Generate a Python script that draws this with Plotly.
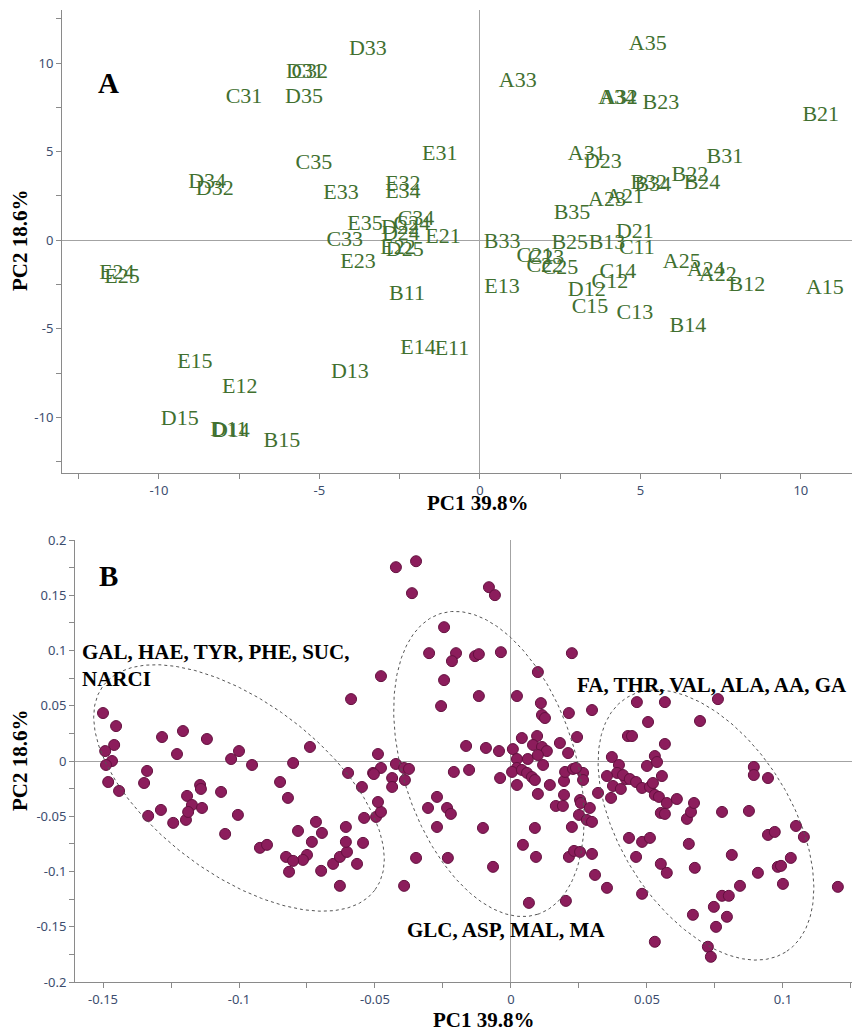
import numpy as np
import plotly.graph_objects as go

# ---------------- Panel A: PCA scores (sample labels) ----------------
sample_labels = [
    "D33", "D31", "C32", "C31", "D35", "C35", "E31", "D34", "D32", "E33",
    "E32", "E34", "E35", "C33", "E23", "D22", "C34", "C24", "D24", "E22",
    "D25", "E21", "E24", "E25", "B11", "E14", "E11", "E15", "D13", "E12",
    "D15", "D14", "D11", "B15",
    "A35", "A33", "A34", "A32", "B23", "B21", "A31", "D23", "B31", "B22",
    "B24", "B32", "B34", "A23", "A21", "B35", "D21", "B33", "B25", "B13",
    "C11", "C21", "C23", "C22", "C25", "E13", "D12", "C12", "C14", "C15",
    "C13", "B14", "A25", "A24", "A22", "B12", "A15",
]
pc1_scores = [
    -3.49, -5.45, -5.30, -7.35, -5.48, -5.17, -1.25, -8.50, -8.26, -4.33,
    -2.40, -2.40, -3.58, -4.21, -3.80, -2.49, -1.99, -2.12, -2.46, -2.55,
    -2.34, -1.15, -11.31, -11.15, -2.27, -1.93, -0.87, -8.88, -4.05, -7.48,
    -9.35, -7.76, -7.82, -6.17,
    5.23, 1.18, 4.27, 4.33, 5.64, 10.62, 3.33, 3.83, 7.63, 6.54,
    6.92, 5.26, 5.39, 3.96, 4.52, 2.87, 4.83, 0.69, 2.80, 3.96,
    4.89, 1.71, 2.06, 2.02, 2.49, 0.69, 3.33, 4.05, 4.30, 3.43,
    4.83, 6.48, 6.29, 7.04, 7.41, 8.32, 10.75,
]
pc2_scores = [
    10.79, 9.49, 9.49, 8.08, 8.08, 4.35, 4.86, 3.28, 2.88, 2.66,
    3.16, 2.71, 0.90, 0.00, -1.24, 0.68, 1.19, 0.90, 0.34, -0.45,
    -0.56, 0.17, -1.86, -2.09, -3.05, -6.10, -6.16, -6.89, -7.46, -8.31,
    -10.11, -10.79, -10.73, -11.36,
    11.07, 8.98, 8.02, 7.97, 7.74, 7.06, 4.86, 4.41, 4.69, 3.67,
    3.22, 3.22, 3.11, 2.26, 2.43, 1.53, 0.45, -0.11, -0.17, -0.17,
    -0.45, -0.90, -1.02, -1.47, -1.58, -2.66, -2.82, -2.37, -1.81, -3.79,
    -4.12, -4.86, -1.24, -1.69, -1.98, -2.54, -2.71,
]

# ---------------- Panel B: PCA loadings ----------------
loading_pc1 = [
    -0.1500, -0.1452, -0.1283, -0.1206, -0.1118, -0.1459, -0.1492, -0.1228, -0.1467, -0.1489,
    -0.1029, -0.1000, -0.0952, -0.0801, -0.0739, -0.0489, -0.0599, -0.0507, -0.0478, -0.1338,
    -0.1481, -0.1441, -0.1349, -0.1334, -0.1287, -0.1242, -0.1195, -0.1191, -0.1173, -0.1187,
    -0.1143, -0.1140, -0.1136, -0.1066, -0.1051, -0.1004, -0.0849, -0.0820, -0.0923, -0.0897,
    -0.0783, -0.0717, -0.0695, -0.0732, -0.0750, -0.0765, -0.0827, -0.0801, -0.0816, -0.0698,
    -0.0654, -0.0629, -0.0603, -0.0607, -0.0607, -0.0566, -0.0629, -0.0544, -0.0540, -0.0496,
    -0.0478, -0.0489, -0.0548, -0.0504, -0.0437, -0.0437, -0.0588, -0.0478,
    -0.0423, -0.0349, -0.0364, -0.0301, -0.0246, -0.0202, -0.0217, -0.0132, -0.0118, -0.0037,
    -0.0081, -0.0059, -0.0246, -0.0118, -0.0257, -0.0423, -0.0393, -0.0375, -0.0390, -0.0272,
    -0.0305, -0.0235, -0.0221, -0.0272, -0.0393, -0.0349, -0.0232, -0.0103, -0.0066, -0.0210,
    -0.0154, -0.0165, -0.0092, -0.0044, 0.0007, -0.0040, 0.0022, 0.0062, 0.0022, 0.0004,
    0.0040, 0.0059, 0.0077, 0.0088, 0.0022, 0.0040, 0.0096, 0.0081, 0.0114, 0.0132,
    0.0099, 0.0118, 0.0180, 0.0210, 0.0243, 0.0110, 0.0114, 0.0125, 0.0213, 0.0298,
    0.0099, 0.0022, 0.0224, 0.0099, 0.0143, 0.0195, 0.0165, 0.0191, 0.0195, 0.0199,
    0.0228, 0.0265, 0.0265, 0.0254, 0.0257, 0.0290, 0.0250, 0.0279, 0.0298, 0.0088,
    0.0224, 0.0044, 0.0092, 0.0213, 0.0232, 0.0254, 0.0298, 0.0309, 0.0353, 0.0202,
    0.0066, 0.0371, 0.0397, 0.0390, 0.0353, 0.0375, 0.0404, 0.0423, 0.0320, 0.0368,
    0.0430, 0.0239,
    0.0463, 0.0566, 0.0761, 0.0504, 0.0695, 0.0445, 0.0566, 0.0529, 0.0500, 0.0893,
    0.0893, 0.0945, 0.0412, 0.0437, 0.0460, 0.0482, 0.0511, 0.0522, 0.0555, 0.0537,
    0.0529, 0.0544, 0.0573, 0.0610, 0.0551, 0.0566, 0.0647, 0.0662, 0.0673, 0.0434,
    0.0482, 0.0511, 0.0460, 0.0551, 0.0573, 0.0654, 0.0676, 0.0482, 0.0529, 0.0669,
    0.0724, 0.0735, 0.0754, 0.0746, 0.0776, 0.0801, 0.0794, 0.0842, 0.0812, 0.0776,
    0.0875, 0.0908, 0.0945, 0.0970, 0.0981, 0.0993, 0.1000, 0.1029, 0.1048, 0.1077,
    0.1202,
]
loading_pc2 = [
    0.0434, 0.0316, 0.0217, 0.0271, 0.0199, 0.0145, 0.0090, 0.0063, 0.0000, -0.0036,
    0.0018, 0.0090, -0.0036, -0.0018, 0.0127, 0.0063, -0.0108, -0.0108, -0.0063, -0.0090,
    -0.0190, -0.0271, -0.0199, -0.0497, -0.0443, -0.0560, -0.0533, -0.0316, -0.0398, -0.0461,
    -0.0217, -0.0253, -0.0425, -0.0280, -0.0660, -0.0488, -0.0190, -0.0334, -0.0786, -0.0759,
    -0.0633, -0.0551, -0.0651, -0.0732, -0.0850, -0.0895, -0.0868, -0.0904, -0.1003, -0.0994,
    -0.0931, -0.0868, -0.0823, -0.0732, -0.0597, -0.0931, -0.1130, -0.0741, -0.0515, -0.0506,
    -0.0461, -0.0371, -0.0235, -0.0118, -0.0154, -0.0235, 0.0560, 0.0768,
    0.1754, 0.1808, 0.1519, 0.0976, 0.1211, 0.0976, 0.0904, 0.0949, 0.0967, 0.0985,
    0.1573, 0.1501, 0.0732, 0.0588, 0.0497, -0.0027, -0.0063, -0.0072, -0.0172, -0.0325,
    -0.0425, -0.0425, -0.0479, -0.0597, -0.1130, -0.0877, -0.0877, -0.0606, -0.0958, -0.0099,
    -0.0081, 0.0136, 0.0118, 0.0090, 0.0108, -0.0154, 0.0018, 0.0018, -0.0063, -0.0099,
    -0.0081, -0.0108, -0.0145, -0.0172, -0.0217, 0.0208, 0.0226, 0.0145, 0.0127, 0.0090,
    0.0054, -0.0036, 0.0163, 0.0072, 0.0217, 0.0524, 0.0416, 0.0389, 0.0434, 0.0461,
    0.0805, 0.0588, 0.0976, -0.0298, -0.0217, -0.0307, -0.0407, -0.0407, -0.0181, -0.0099,
    -0.0072, -0.0108, -0.0172, -0.0353, -0.0380, -0.0425, -0.0488, -0.0533, -0.0551, -0.0606,
    -0.0597, -0.0759, -0.0868, -0.0868, -0.0814, -0.0823, -0.0841, -0.1031, -0.1148, -0.1266,
    -0.1284, 0.0036, -0.0036, -0.0108, -0.0136, -0.0226, -0.0253, -0.0163, -0.0289, -0.0334,
    0.0226, -0.0063,
    0.0533, 0.0533, 0.0560, 0.0353, 0.0362, 0.0226, 0.0154, 0.0045, -0.0045, -0.0054,
    -0.0127, -0.0154, -0.0127, -0.0163, -0.0190, -0.0244, -0.0235, -0.0199, -0.0136, -0.0009,
    -0.0307, -0.0325, -0.0380, -0.0344, -0.0470, -0.0479, -0.0524, -0.0461, -0.0380, -0.0696,
    -0.0732, -0.0696, -0.0868, -0.0931, -0.1012, -0.0750, -0.0967, -0.1202, -0.1636, -0.1392,
    -0.1681, -0.1772, -0.1501, -0.1320, -0.1220, -0.1220, -0.1410, -0.1130, -0.0850, -0.0461,
    -0.0452, -0.1012, -0.0669, -0.0642, -0.0958, -0.0949, -0.1112, -0.0877, -0.0588, -0.0687,
    -0.1139,
]

# group labels in panel B
group_names = ["GAL, HAE, TYR, PHE, SUC,<br>NARCI", "FA, THR, VAL, ALA, AA, GA", "GLC, ASP, MAL, MA"]
group_label_x = [-0.1585, 0.0235, -0.039]
group_label_y = [0.0863, 0.0687, -0.1528]

# confidence ellipses (centre in data units; semi-axes in screen px; angle in degrees)
ellipse_cx = [-0.100, -0.0081, 0.0717]
ellipse_cy = [-0.0244, -0.0027, -0.0579]
ellipse_a = [170, 158, 150]
ellipse_b = [86, 86, 86]
ellipse_ang = [37, 72, 58]

# tick labels
a_xticks = [-10, -5, 0, 5, 10]
a_xtext = ["-10", "-5", "0", "5", "10"]
a_yticks = [-10, -5, 0, 5, 10]
a_ytext = ["-10", "-5", "0", "5", "10"]
b_xticks = [-0.15, -0.1, -0.05, 0, 0.05, 0.1]
b_xtext = ["-0.15", "-0.1", "-0.05", "0", "0.05", "0.1"]
b_yticks = [-0.2, -0.15, -0.1, -0.05, 0, 0.05, 0.1, 0.15, 0.2]
b_ytext = ["-0.2", "-0.15", "-0.1", "-0.05", "0", "0.05", "0.1", "0.15", "0.2"]

# page body has an 8px margin -> shift layout accordingly
OFF = 8
W, H = 860 - OFF, 1032 - OFF
SERIF = "Liberation Serif, Times New Roman, serif"
SANS = "Noto Sans, Open Sans, sans-serif"
TICKCOL = "#3c4d6e"
LINECOL = "#8a8a8a"


def fx(px):
    return (px - OFF) / W


def fy(py):
    return 1 - (py - OFF) / H


# panel geometry (screen pixels)
A_x0, A_x1, A_y0, A_y1 = 62, 858, 10, 473
B_x0, B_x1, B_y0, B_y1 = 75, 858, 540, 982
A_xrange = [-13.02, 11.78]
A_yrange = [-13.13, 12.99]
B_xrange = [-0.1603, 0.1276]
B_yrange = [-0.2, 0.2]

px_per_x_b = (B_x1 - B_x0) / (B_xrange[1] - B_xrange[0])
px_per_y_b = (B_y1 - B_y0) / (B_yrange[1] - B_yrange[0])

fig = go.Figure()

fig.add_trace(go.Scatter(
    x=pc1_scores, y=pc2_scores, text=sample_labels, mode="text",
    textposition="middle center",
    textfont=dict(family=SERIF, size=22, color="#41702f"),
    xaxis="x", yaxis="y", hoverinfo="skip", showlegend=False,
))

fig.add_trace(go.Scatter(
    x=loading_pc1, y=loading_pc2, mode="markers",
    marker=dict(size=11, color="#8c1d5c", line=dict(color="#64103f", width=1)),
    xaxis="x2", yaxis="y2", hoverinfo="skip", showlegend=False,
))

t = np.linspace(0, 2 * np.pi, 300)
for cx, cy, a, b, ang in zip(ellipse_cx, ellipse_cy, ellipse_a, ellipse_b, ellipse_ang):
    th = np.radians(ang)
    dx = a * np.cos(t) * np.cos(th) - b * np.sin(t) * np.sin(th)
    dy = a * np.cos(t) * np.sin(th) + b * np.sin(t) * np.cos(th)
    fig.add_trace(go.Scatter(
        x=cx + dx / px_per_x_b, y=cy - dy / px_per_y_b, mode="lines",
        line=dict(color="#555555", width=1, dash="dot"),
        xaxis="x2", yaxis="y2", hoverinfo="skip", showlegend=False,
    ))


def axis_common():
    return dict(
        showline=True, linecolor=LINECOL, linewidth=1, mirror=False,
        ticks="outside", ticklen=5, tickcolor=LINECOL, tickwidth=1,
        showgrid=False, zeroline=True, zerolinecolor="#a3a3a3", zerolinewidth=1,
        tickfont=dict(family=SANS, size=13, color=TICKCOL),
        tickmode="array", automargin=False,
    )


def minor(d):
    return dict(ticks="outside", ticklen=5, tickcolor=LINECOL, tickmode="linear",
                tick0=0, dtick=d, showgrid=False)


fig.update_layout(
    width=W, height=H,
    margin=dict(l=0, r=0, t=0, b=0, pad=0, autoexpand=False),
    paper_bgcolor="white", plot_bgcolor="white",
    showlegend=False,
    xaxis=dict(**axis_common(), domain=[fx(A_x0), fx(A_x1)], range=A_xrange, anchor="y",
               tickvals=a_xticks, ticktext=a_xtext, minor=minor(2.5)),
    yaxis=dict(**axis_common(), domain=[fy(A_y1), fy(A_y0)], range=A_yrange, anchor="x",
               tickvals=a_yticks, ticktext=a_ytext, minor=minor(2.5)),
    xaxis2=dict(**axis_common(), domain=[fx(B_x0), fx(B_x1)], range=B_xrange, anchor="y2",
                tickvals=b_xticks, ticktext=b_xtext, minor=minor(0.025)),
    yaxis2=dict(**axis_common(), domain=[fy(B_y1), fy(B_y0)], range=B_yrange, anchor="x2",
                tickvals=b_yticks, ticktext=b_ytext, minor=minor(0.025)),
)

ann = []
# panel letters
for letter, (lx, ly) in zip(["A", "B"], [(108, 83), (108, 576)]):
    ann.append(dict(text="<b>" + letter + "</b>", x=fx(lx), y=fy(ly), xref="paper", yref="paper",
                    xanchor="center", yanchor="middle", showarrow=False,
                    font=dict(family=SERIF, size=29, color="black")))
# axis titles
for xc, yc in [(478, 503), (484, 1020)]:
    ann.append(dict(text="<b>PC1 39.8%</b>", x=fx(xc), y=fy(yc), xref="paper", yref="paper",
                    xanchor="center", yanchor="middle", showarrow=False,
                    font=dict(family=SERIF, size=21, color="black")))
for yc in [240, 760]:
    ann.append(dict(text="<b>PC2 18.6%</b>", x=fx(20), y=fy(yc), xref="paper", yref="paper",
                    xanchor="center", yanchor="middle", textangle=-90, showarrow=False,
                    font=dict(family=SERIF, size=21, color="black")))
# group labels
for name, gx, gy in zip(group_names, group_label_x, group_label_y):
    ann.append(dict(text="<b>" + name + "</b>", x=gx, y=gy, xref="x2", yref="y2",
                    xanchor="left", yanchor="middle", align="left", showarrow=False,
                    font=dict(family=SERIF, size=21, color="black")))
fig.update_layout(annotations=ann)

fig.write_html("out.html")
